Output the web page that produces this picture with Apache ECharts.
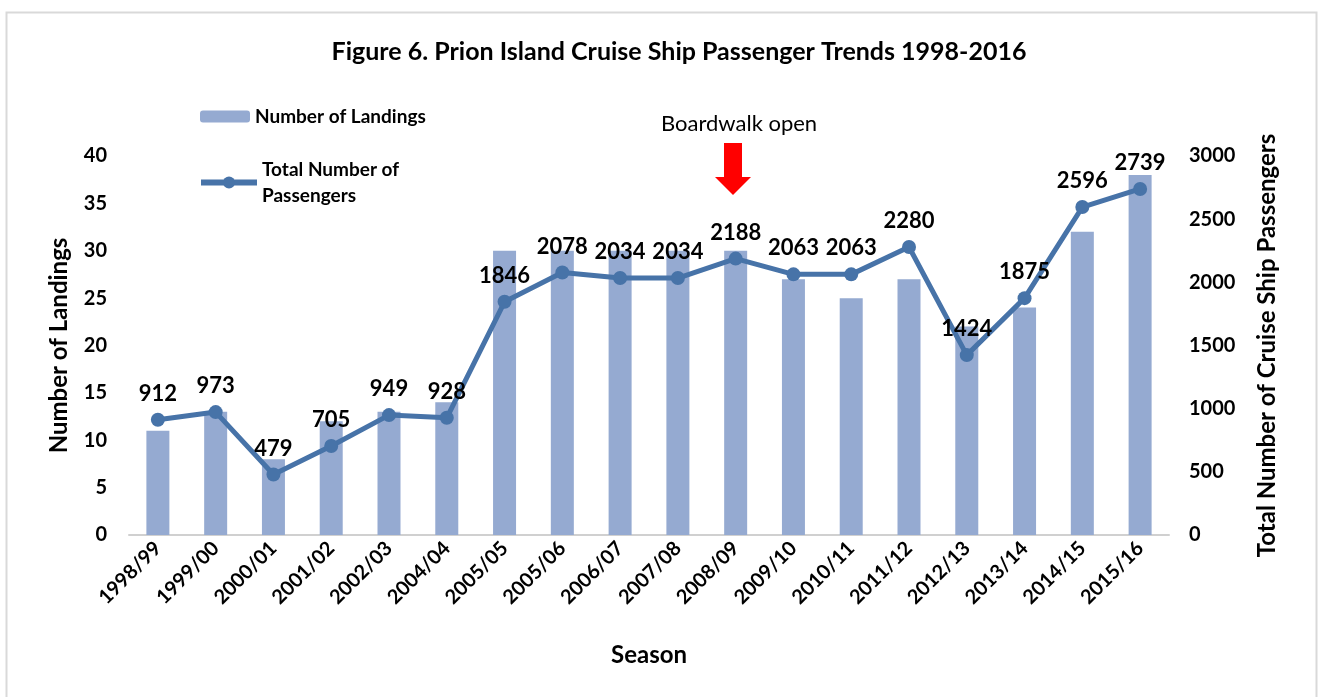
<!DOCTYPE html>
<html>
<head>
<meta charset="utf-8" />
<title>Figure 6. Prion Island Cruise Ship Passenger Trends 1998-2016</title>
<script src="https://cdn.jsdelivr.net/npm/echarts@6/dist/echarts.min.js"></script>
<style>
  html, body { margin: 0; padding: 0; background: #fff; }
  #chart { width: 1319px; height: 697px; }
</style>
</head>
<body>
<div id="chart"></div>
<script>
const seasons = ["1998/99", "1999/00", "2000/01", "2001/02", "2002/03", "2004/04", "2005/05", "2005/06", "2006/07",
  "2007/08", "2008/09", "2009/10", "2010/11", "2011/12", "2012/13", "2013/14", "2014/15", "2015/16"];
const landings = [11, 13, 8, 12, 13, 14, 30, 30, 30, 30, 30, 27, 25, 27, 22, 24, 32, 38];
const passengers = [912, 973, 479, 705, 949, 928, 1846, 2078, 2034, 2034, 2188, 2063, 2063, 2280, 1424, 1875, 2596, 2739];

const font = "Lato, 'Open Sans', sans-serif";
const chart = echarts.init(document.getElementById("chart"));

chart.setOption({
  animation: false,
  textStyle: { fontFamily: font },
  title: {
    text: "Figure 6. Prion Island Cruise Ship Passenger Trends 1998-2016",
    left: 674,
    textAlign: "center",
    top: 34,
    textStyle: { fontSize: 25, fontWeight: "bold", color: "#000", fontFamily: font }
  },
  legend: [
    {
      data: ["Number of Landings"],
      left: 195, top: 102,
      itemWidth: 50, itemHeight: 12, itemGap: 6,
      textStyle: { fontSize: 19, fontWeight: "bold", color: "#000" }
    },
    {
      data: ["Total Number of\nPassengers"],
      left: 193, top: 154,
      itemWidth: 56, itemHeight: 15, itemGap: 4,
      lineStyle: { width: 6 },
      textStyle: { fontSize: 19, fontWeight: "bold", color: "#000", lineHeight: 26, verticalAlign: "top", padding: [-5, 0, 0, 0] }
    }
  ],
  grid: { left: 129, right: 150, top: 156, bottom: 162 },
  xAxis: {
    type: "category",
    data: seasons,
    name: "Season",
    nameLocation: "middle",
    nameGap: 108,
    nameTextStyle: { fontSize: 24, fontWeight: "bold", color: "#000" },
    axisLine: { lineStyle: { color: "#d0d0d0", width: 2 } },
    axisTick: { show: false },
    axisLabel: { rotate: 45, fontSize: 20, fontWeight: "bold", color: "#000", interval: 0, margin: 10 }
  },
  yAxis: [
    {
      type: "value",
      min: 0, max: 40, interval: 5,
      name: "Number of Landings",
      nameLocation: "middle",
      nameGap: 58,
      nameTextStyle: { fontSize: 24, fontWeight: "bold", color: "#000" },
      splitLine: { show: false },
      axisLine: { show: false },
      axisTick: { show: false },
      axisLabel: { fontSize: 20, fontWeight: "bold", color: "#000", margin: 22 }
    },
    {
      type: "value",
      min: 0, max: 3000, interval: 500,
      name: "Total Number of Cruise Ship Passengers",
      nameLocation: "middle",
      nameGap: 86,
      nameRotate: 90,
      nameTextStyle: { fontSize: 24, fontWeight: "bold", color: "#000" },
      splitLine: { show: false },
      axisLine: { show: false },
      axisTick: { show: false },
      axisLabel: { fontSize: 20, fontWeight: "bold", color: "#000", margin: 20, formatter: v => String(v) }
    }
  ],
  series: [
    {
      name: "Number of Landings",
      type: "bar",
      data: landings,
      yAxisIndex: 0,
      barWidth: 23,
      itemStyle: { color: "#95aad1" }
    },
    {
      name: "Total Number of\nPassengers",
      type: "line",
      data: passengers,
      yAxisIndex: 1,
      symbol: "circle",
      symbolSize: 14,
      lineStyle: { color: "#4773a8", width: 5 },
      itemStyle: { color: "#4773a8" },
      label: {
        show: true,
        position: "top",
        distance: 8,
        fontSize: 22,
        fontWeight: "bold",
        color: "#000"
      }
    }
  ],
  graphic: [
    {
      type: "rect",
      left: 4, top: 10,
      shape: { width: 1310, height: 700 },
      style: { fill: "none", stroke: "#d9d9d9", lineWidth: 2 },
      silent: true
    },
    {
      type: "text",
      left: 661, top: 113,
      style: { text: "Boardwalk open", fontSize: 22, fill: "#000", fontFamily: font }
    },
    {
      type: "polygon",
      shape: { points: [[724, 143], [742, 143], [742, 177], [751, 177], [733, 195], [715, 177], [724, 177]] },
      style: { fill: "#ff0000" }
    }
  ]
});
</script>
</body>
</html>
